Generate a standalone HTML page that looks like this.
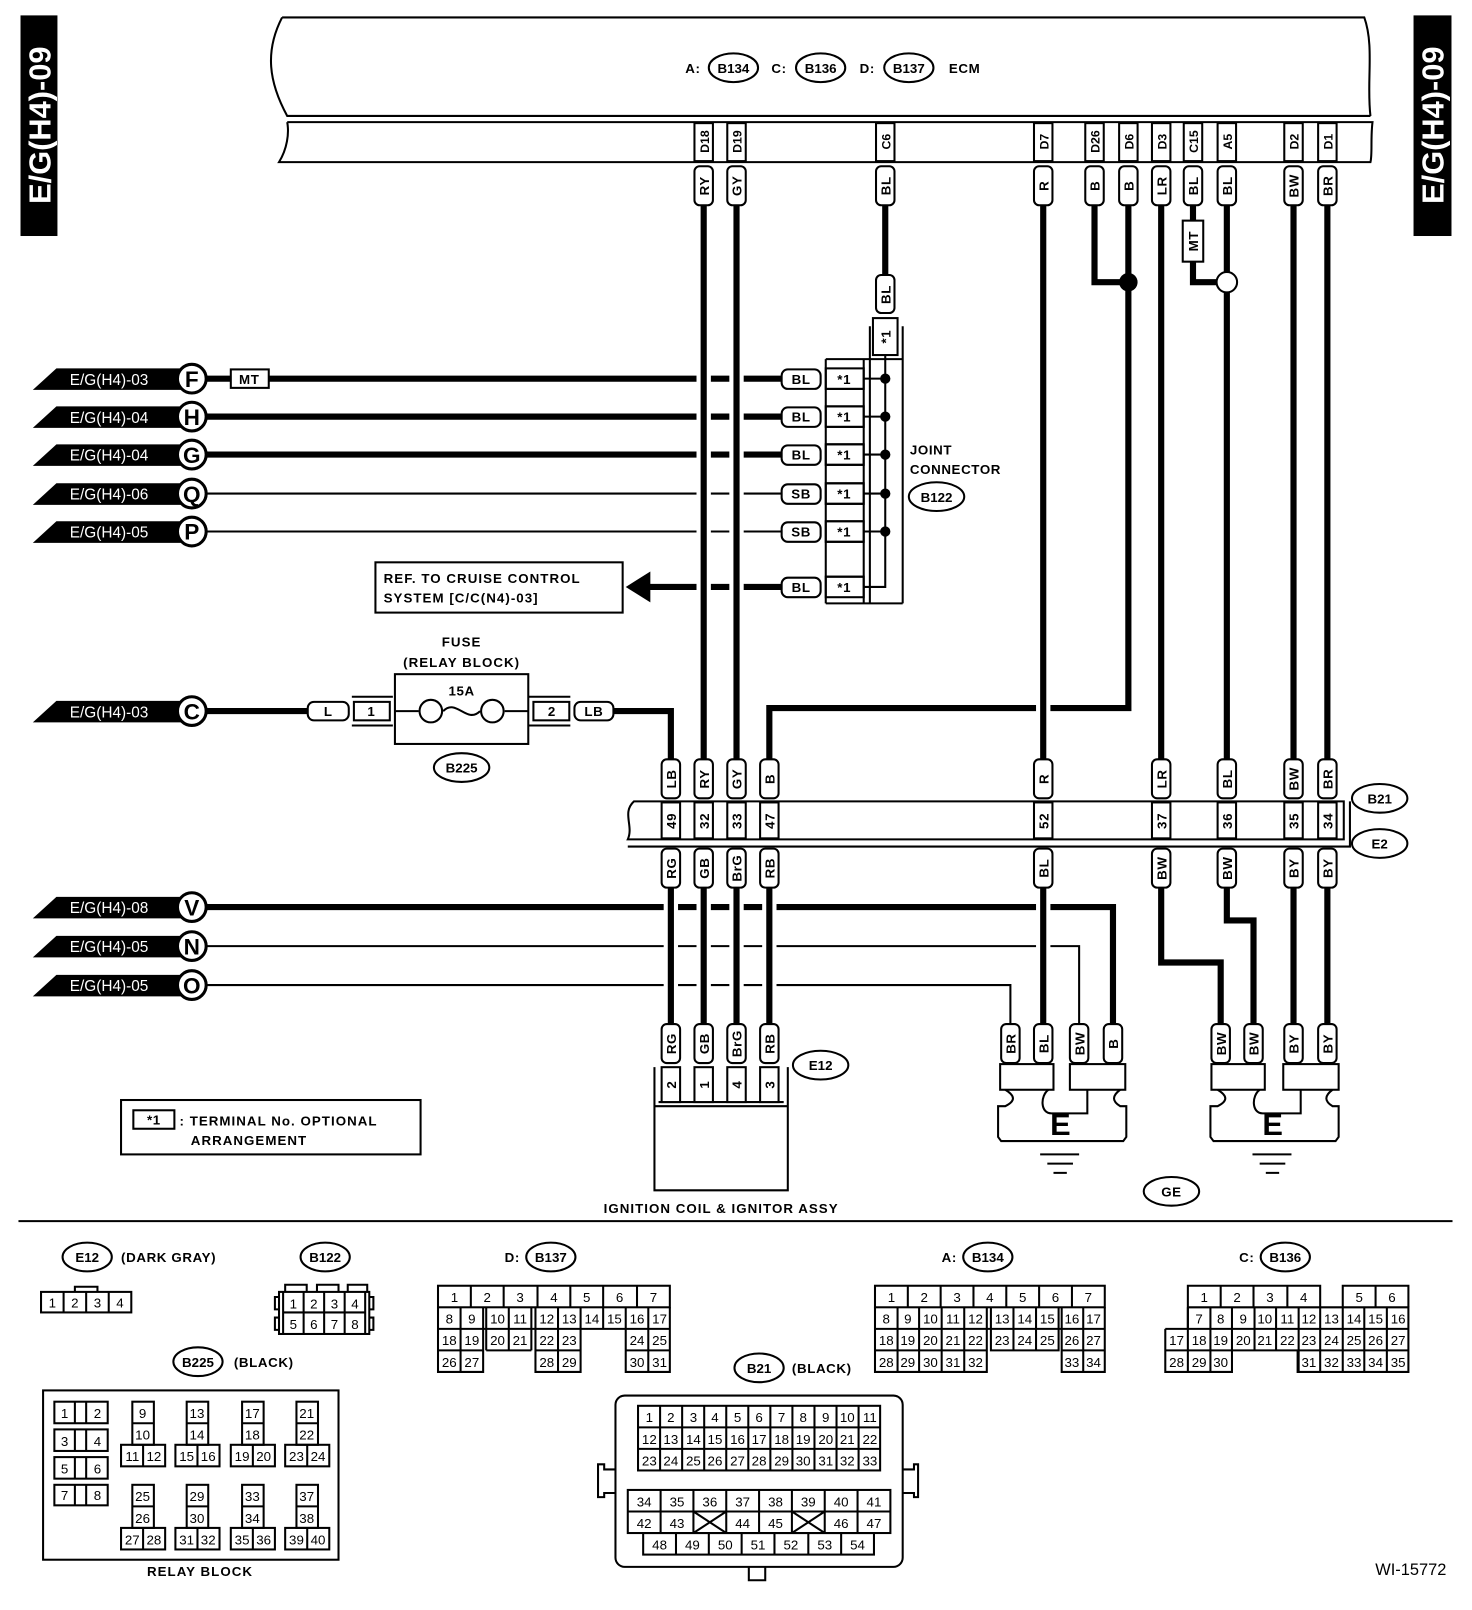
<!DOCTYPE html>
<html><head><meta charset="utf-8"><style>
html,body{margin:0;padding:0;background:#fff;}
svg{display:block}
text{font-family:"Liberation Sans",sans-serif;font-weight:bold;font-size:13px;fill:#000;letter-spacing:0.6px}
.s{font-size:13px;font-weight:normal;letter-spacing:0}
.p{font-size:12px;letter-spacing:0}
.o{fill:#fff;stroke:#000;stroke-width:2}
.n{fill:none;stroke:#000;stroke-width:2}
.th{stroke:#000;stroke-width:6;fill:none}
.tn{stroke:#000;stroke-width:2;fill:none}
.g{fill:#fff;stroke:none}
</style></head><body>
<svg width="1472" height="1610" viewBox="0 0 1435 1569" preserveAspectRatio="none" xmlns="http://www.w3.org/2000/svg">
<!-- tabs -->
<rect x="20" y="15" width="36" height="215" fill="#000"/>
<text transform="translate(49,122) rotate(-90)" text-anchor="middle" style="font-size:30px;fill:#fff;letter-spacing:0">E/G(H4)-09</text>
<rect x="1378" y="15" width="37" height="215" fill="#000"/>
<text transform="translate(1407,122) rotate(-90)" text-anchor="middle" style="font-size:30px;fill:#fff;letter-spacing:0">E/G(H4)-09</text>

<!-- ECM -->
<path class="n" d="M275,17 L1330,17 C1340,45 1332,80 1336,113 M275,17 C258,50 262,80 280,113 L1336,113"/>
<path class="n" d="M280,119 L1338,119 C1336,135 1338,150 1336,158 L272,158 C280,145 282,130 280,119"/>
<text x="668" y="71">A:</text>
<ellipse class="o" cx="715" cy="66" rx="24" ry="14"/><text x="715" y="71" text-anchor="middle" style="letter-spacing:0">B134</text>
<text x="752" y="71">C:</text>
<ellipse class="o" cx="800" cy="66" rx="24" ry="14"/><text x="800" y="71" text-anchor="middle" style="letter-spacing:0">B136</text>
<text x="838" y="71">D:</text>
<ellipse class="o" cx="886" cy="66" rx="24" ry="14"/><text x="886" y="71" text-anchor="middle" style="letter-spacing:0">B137</text>
<text x="925" y="71">ECM</text>

<!-- horizontal lines (upper) -->
<path class="th" d="M200,369 H762 M200,406 H762 M200,443 H762"/>
<path class="tn" d="M200,481 H762 M200,518 H762"/>
<path class="th" d="M632,572 H762"/>
<path class="th" d="M200,693 H300 M598,693 H654 V740"/>
<path class="th" d="M1100,200 V690 H750 V740"/>
<!-- lower horizontal -->
<path class="th" d="M200,884 H1085 V998"/>
<path class="tn" d="M200,922 H1052 V998 M200,960 H985 V998"/>
<!-- gaps -->
<g class="g">
<rect x="679" y="364" width="14" height="11"/><rect x="711" y="364" width="14" height="11"/>
<rect x="679" y="401" width="14" height="11"/><rect x="711" y="401" width="14" height="11"/>
<rect x="679" y="438" width="14" height="11"/><rect x="711" y="438" width="14" height="11"/>
<rect x="679" y="477" width="14" height="9"/><rect x="711" y="477" width="14" height="9"/>
<rect x="679" y="514" width="14" height="9"/><rect x="711" y="514" width="14" height="9"/>
<rect x="679" y="567" width="14" height="11"/><rect x="711" y="567" width="14" height="11"/>
<rect x="1010" y="685" width="14" height="11"/>
<rect x="647" y="879" width="14" height="11"/><rect x="679" y="879" width="14" height="11"/><rect x="711" y="879" width="14" height="11"/><rect x="743" y="879" width="14" height="11"/><rect x="1010" y="879" width="14" height="11"/>
<rect x="647" y="918" width="14" height="9"/><rect x="679" y="918" width="14" height="9"/><rect x="711" y="918" width="14" height="9"/><rect x="743" y="918" width="14" height="9"/><rect x="1010" y="918" width="14" height="9"/>
<rect x="647" y="956" width="14" height="9"/><rect x="679" y="956" width="14" height="9"/><rect x="711" y="956" width="14" height="9"/><rect x="743" y="956" width="14" height="9"/>
</g>

<!-- vertical wires -->
<path class="th" d="M686,200 V740 M718,200 V740 M863,200 V268 M1017,200 V740 M1067,200 V275 H1100 M1132,200 V740 M1163,200 V215 M1163,255 V275 H1186 M1196,200 V740 M1261,200 V740 M1294,200 V740"/>
<path class="th" d="M654,865 V998 M686,865 V998 M718,865 V998 M750,865 V998 M1017,865 V998 M1132,865 V938 H1190 V998 M1196,865 V897 H1222 V998 M1261,865 V998 M1294,865 V998"/>
<circle cx="1100" cy="275" r="9" fill="#000"/>
<circle cx="1196" cy="275" r="10" class="o"/>
<rect class="o" x="1153" y="215" width="20" height="40"/><text transform="translate(1168,235) rotate(-90)" text-anchor="middle">MT</text>

<!-- ECM pin cells -->
<g>
<rect class="o" x="677" y="120" width="18" height="37"/><text transform="translate(691,138) rotate(-90)" text-anchor="middle" class="p">D18</text>
<rect class="o" x="709" y="120" width="18" height="37"/><text transform="translate(723,138) rotate(-90)" text-anchor="middle" class="p">D19</text>
<rect class="o" x="854" y="120" width="18" height="37"/><text transform="translate(868,138) rotate(-90)" text-anchor="middle" class="p">C6</text>
<rect class="o" x="1008" y="120" width="18" height="37"/><text transform="translate(1022,138) rotate(-90)" text-anchor="middle" class="p">D7</text>
<rect class="o" x="1058" y="120" width="18" height="37"/><text transform="translate(1072,138) rotate(-90)" text-anchor="middle" class="p">D26</text>
<rect class="o" x="1091" y="120" width="18" height="37"/><text transform="translate(1105,138) rotate(-90)" text-anchor="middle" class="p">D6</text>
<rect class="o" x="1123" y="120" width="18" height="37"/><text transform="translate(1137,138) rotate(-90)" text-anchor="middle" class="p">D3</text>
<rect class="o" x="1154" y="120" width="18" height="37"/><text transform="translate(1168,138) rotate(-90)" text-anchor="middle" class="p">C15</text>
<rect class="o" x="1187" y="120" width="18" height="37"/><text transform="translate(1201,138) rotate(-90)" text-anchor="middle" class="p">A5</text>
<rect class="o" x="1252" y="120" width="18" height="37"/><text transform="translate(1266,138) rotate(-90)" text-anchor="middle" class="p">D2</text>
<rect class="o" x="1285" y="120" width="18" height="37"/><text transform="translate(1299,138) rotate(-90)" text-anchor="middle" class="p">D1</text>
</g>
<!-- top pills -->
<g>
<rect class="o" x="677" y="162" width="18" height="38" rx="5"/><text transform="translate(691,181) rotate(-90)" text-anchor="middle">RY</text>
<rect class="o" x="709" y="162" width="18" height="38" rx="5"/><text transform="translate(723,181) rotate(-90)" text-anchor="middle">GY</text>
<rect class="o" x="854" y="162" width="18" height="38" rx="5"/><text transform="translate(868,181) rotate(-90)" text-anchor="middle">BL</text>
<rect class="o" x="1008" y="162" width="18" height="38" rx="5"/><text transform="translate(1022,181) rotate(-90)" text-anchor="middle">R</text>
<rect class="o" x="1058" y="162" width="18" height="38" rx="5"/><text transform="translate(1072,181) rotate(-90)" text-anchor="middle">B</text>
<rect class="o" x="1091" y="162" width="18" height="38" rx="5"/><text transform="translate(1105,181) rotate(-90)" text-anchor="middle">B</text>
<rect class="o" x="1123" y="162" width="18" height="38" rx="5"/><text transform="translate(1137,181) rotate(-90)" text-anchor="middle">LR</text>
<rect class="o" x="1154" y="162" width="18" height="38" rx="5"/><text transform="translate(1168,181) rotate(-90)" text-anchor="middle">BL</text>
<rect class="o" x="1187" y="162" width="18" height="38" rx="5"/><text transform="translate(1201,181) rotate(-90)" text-anchor="middle">BL</text>
<rect class="o" x="1252" y="162" width="18" height="38" rx="5"/><text transform="translate(1266,181) rotate(-90)" text-anchor="middle">BW</text>
<rect class="o" x="1285" y="162" width="18" height="38" rx="5"/><text transform="translate(1299,181) rotate(-90)" text-anchor="middle">BR</text>
<rect class="o" x="854" y="268" width="18" height="37" rx="5"/><text transform="translate(868,287) rotate(-90)" text-anchor="middle">BL</text>
</g>

<!-- joint connector -->
<path class="n" d="M848,318 V588 M880,318 V588 M805,350 H880 M805,588 H880"/>
<rect class="o" x="851" y="310" width="24" height="36"/><text transform="translate(868,328) rotate(-90)" text-anchor="middle">*1</text>
<path class="n" d="M863,346 V572 H842"/>
<g>
<rect class="o" x="805" y="359" width="37" height="20"/><text x="823" y="374" text-anchor="middle">*1</text>
<rect class="o" x="805" y="396" width="37" height="20"/><text x="823" y="411" text-anchor="middle">*1</text>
<rect class="o" x="805" y="433" width="37" height="20"/><text x="823" y="448" text-anchor="middle">*1</text>
<rect class="o" x="805" y="471" width="37" height="20"/><text x="823" y="486" text-anchor="middle">*1</text>
<rect class="o" x="805" y="508" width="37" height="20"/><text x="823" y="523" text-anchor="middle">*1</text>
<rect class="o" x="805" y="562" width="37" height="20"/><text x="823" y="577" text-anchor="middle">*1</text>
<path class="n" d="M805,350 V588 M842,350 V588 M805,379 H842 M805,396 H842 M805,416 H842 M805,433 H842 M805,453 H842 M805,471 H842 M805,491 H842 M805,508 H842 M805,528 H842 M805,562 H842"/>
<path class="n" d="M842,369 H863 M842,406 H863 M842,443 H863 M842,481 H863 M842,518 H863"/>
<circle cx="863" cy="369" r="5"/><circle cx="863" cy="406" r="5"/><circle cx="863" cy="443" r="5"/><circle cx="863" cy="481" r="5"/><circle cx="863" cy="518" r="5"/>
<rect class="o" x="762" y="360" width="38" height="19" rx="6"/><text x="781" y="374" text-anchor="middle">BL</text>
<rect class="o" x="762" y="397" width="38" height="19" rx="6"/><text x="781" y="411" text-anchor="middle">BL</text>
<rect class="o" x="762" y="434" width="38" height="19" rx="6"/><text x="781" y="448" text-anchor="middle">BL</text>
<rect class="o" x="762" y="472" width="38" height="19" rx="6"/><text x="781" y="486" text-anchor="middle">SB</text>
<rect class="o" x="762" y="509" width="38" height="19" rx="6"/><text x="781" y="523" text-anchor="middle">SB</text>
<rect class="o" x="762" y="563" width="38" height="19" rx="6"/><text x="781" y="577" text-anchor="middle">BL</text>
</g>
<text x="887" y="443">JOINT</text><text x="887" y="462">CONNECTOR</text>
<ellipse class="o" cx="913" cy="484" rx="27" ry="14"/><text x="913" y="489" text-anchor="middle" style="letter-spacing:0">B122</text>

<!-- left labels -->
<g>
<polygon points="32,380 55,359 176,359 176,380" fill="#000"/><text x="68" y="375" class="s" style="fill:#fff;font-size:15px">E/G(H4)-03</text><circle class="o" cx="187" cy="369" r="14" style="stroke-width:3"/><text x="187" y="377" text-anchor="middle" style="font-size:22px;letter-spacing:0">F</text>
<polygon points="32,417 55,396 176,396 176,417" fill="#000"/><text x="68" y="412" class="s" style="fill:#fff;font-size:15px">E/G(H4)-04</text><circle class="o" cx="187" cy="406" r="14" style="stroke-width:3"/><text x="187" y="414" text-anchor="middle" style="font-size:22px;letter-spacing:0">H</text>
<polygon points="32,454 55,433 176,433 176,454" fill="#000"/><text x="68" y="449" class="s" style="fill:#fff;font-size:15px">E/G(H4)-04</text><circle class="o" cx="187" cy="443" r="14" style="stroke-width:3"/><text x="187" y="451" text-anchor="middle" style="font-size:22px;letter-spacing:0">G</text>
<polygon points="32,492 55,471 176,471 176,492" fill="#000"/><text x="68" y="487" class="s" style="fill:#fff;font-size:15px">E/G(H4)-06</text><circle class="o" cx="187" cy="481" r="14" style="stroke-width:3"/><text x="187" y="489" text-anchor="middle" style="font-size:22px;letter-spacing:0">Q</text>
<polygon points="32,529 55,508 176,508 176,529" fill="#000"/><text x="68" y="524" class="s" style="fill:#fff;font-size:15px">E/G(H4)-05</text><circle class="o" cx="187" cy="518" r="14" style="stroke-width:3"/><text x="187" y="526" text-anchor="middle" style="font-size:22px;letter-spacing:0">P</text>
<polygon points="32,704 55,683 176,683 176,704" fill="#000"/><text x="68" y="699" class="s" style="fill:#fff;font-size:15px">E/G(H4)-03</text><circle class="o" cx="187" cy="693" r="14" style="stroke-width:3"/><text x="187" y="701" text-anchor="middle" style="font-size:22px;letter-spacing:0">C</text>
<polygon points="32,895 55,874 176,874 176,895" fill="#000"/><text x="68" y="890" class="s" style="fill:#fff;font-size:15px">E/G(H4)-08</text><circle class="o" cx="187" cy="884" r="14" style="stroke-width:3"/><text x="187" y="892" text-anchor="middle" style="font-size:22px;letter-spacing:0">V</text>
<polygon points="32,933 55,912 176,912 176,933" fill="#000"/><text x="68" y="928" class="s" style="fill:#fff;font-size:15px">E/G(H4)-05</text><circle class="o" cx="187" cy="922" r="14" style="stroke-width:3"/><text x="187" y="930" text-anchor="middle" style="font-size:22px;letter-spacing:0">N</text>
<polygon points="32,971 55,950 176,950 176,971" fill="#000"/><text x="68" y="966" class="s" style="fill:#fff;font-size:15px">E/G(H4)-05</text><circle class="o" cx="187" cy="960" r="14" style="stroke-width:3"/><text x="187" y="968" text-anchor="middle" style="font-size:22px;letter-spacing:0">O</text>
</g>
<rect class="o" x="225" y="360" width="37" height="18"/><text x="243" y="374" text-anchor="middle">MT</text>

<!-- REF box -->
<rect class="o" x="366" y="548" width="241" height="49"/>
<text x="374" y="568" style="font-size:13px;letter-spacing:1px">REF. TO CRUISE CONTROL</text>
<text x="374" y="587" style="font-size:13px;letter-spacing:1px">SYSTEM [C/C(N4)-03]</text>
<polygon points="610,572 634,557 634,587" fill="#000"/>

<!-- fuse -->
<text x="450" y="630" text-anchor="middle" style="letter-spacing:1px">FUSE</text>
<text x="450" y="650" text-anchor="middle" style="letter-spacing:1px">(RELAY BLOCK)</text>
<rect class="o" x="300" y="684" width="40" height="18" rx="6"/><text x="320" y="698" text-anchor="middle">L</text>
<rect class="o" x="345" y="684" width="35" height="18"/><text x="362" y="698" text-anchor="middle">1</text>
<path class="n" d="M343,679 H383 M343,707 H383 M515,679 H556 M515,707 H556"/>
<rect class="o" x="385" y="657" width="130" height="68"/>
<text x="450" y="678" text-anchor="middle">15A</text>
<path class="n" d="M385,693 H408 M432,693 C445,680 455,706 468,693 M492,693 H515"/>
<circle class="o" cx="420" cy="693" r="11"/><circle class="o" cx="480" cy="693" r="11"/>
<rect class="o" x="520" y="684" width="35" height="18"/><text x="538" y="698" text-anchor="middle">2</text>
<rect class="o" x="560" y="684" width="38" height="18" rx="6"/><text x="579" y="698" text-anchor="middle">LB</text>
<ellipse class="o" cx="450" cy="748" rx="27" ry="14"/><text x="450" y="753" text-anchor="middle" style="letter-spacing:0">B225</text>

<!-- B21 strip -->
<path class="n" d="M618,781 H1310 V818 H612 C618,805 606,792 618,781 Z M612,825 H1316 V781"/>
<g>
<rect class="o" x="645" y="782" width="18" height="35"/><text transform="translate(659,800) rotate(-90)" text-anchor="middle">49</text>
<rect class="o" x="677" y="782" width="18" height="35"/><text transform="translate(691,800) rotate(-90)" text-anchor="middle">32</text>
<rect class="o" x="709" y="782" width="18" height="35"/><text transform="translate(723,800) rotate(-90)" text-anchor="middle">33</text>
<rect class="o" x="741" y="782" width="18" height="35"/><text transform="translate(755,800) rotate(-90)" text-anchor="middle">47</text>
<rect class="o" x="1008" y="782" width="18" height="35"/><text transform="translate(1022,800) rotate(-90)" text-anchor="middle">52</text>
<rect class="o" x="1123" y="782" width="18" height="35"/><text transform="translate(1137,800) rotate(-90)" text-anchor="middle">37</text>
<rect class="o" x="1187" y="782" width="18" height="35"/><text transform="translate(1201,800) rotate(-90)" text-anchor="middle">36</text>
<rect class="o" x="1252" y="782" width="18" height="35"/><text transform="translate(1266,800) rotate(-90)" text-anchor="middle">35</text>
<rect class="o" x="1285" y="782" width="18" height="35"/><text transform="translate(1299,800) rotate(-90)" text-anchor="middle">34</text>
</g>
<g>
<rect class="o" x="645" y="740" width="18" height="38" rx="5"/><text transform="translate(659,759) rotate(-90)" text-anchor="middle">LB</text>
<rect class="o" x="677" y="740" width="18" height="38" rx="5"/><text transform="translate(691,759) rotate(-90)" text-anchor="middle">RY</text>
<rect class="o" x="709" y="740" width="18" height="38" rx="5"/><text transform="translate(723,759) rotate(-90)" text-anchor="middle">GY</text>
<rect class="o" x="741" y="740" width="18" height="38" rx="5"/><text transform="translate(755,759) rotate(-90)" text-anchor="middle">B</text>
<rect class="o" x="1008" y="740" width="18" height="38" rx="5"/><text transform="translate(1022,759) rotate(-90)" text-anchor="middle">R</text>
<rect class="o" x="1123" y="740" width="18" height="38" rx="5"/><text transform="translate(1137,759) rotate(-90)" text-anchor="middle">LR</text>
<rect class="o" x="1187" y="740" width="18" height="38" rx="5"/><text transform="translate(1201,759) rotate(-90)" text-anchor="middle">BL</text>
<rect class="o" x="1252" y="740" width="18" height="38" rx="5"/><text transform="translate(1266,759) rotate(-90)" text-anchor="middle">BW</text>
<rect class="o" x="1285" y="740" width="18" height="38" rx="5"/><text transform="translate(1299,759) rotate(-90)" text-anchor="middle">BR</text>
</g>
<g>
<rect class="o" x="645" y="827" width="18" height="38" rx="5"/><text transform="translate(659,846) rotate(-90)" text-anchor="middle">RG</text>
<rect class="o" x="677" y="827" width="18" height="38" rx="5"/><text transform="translate(691,846) rotate(-90)" text-anchor="middle">GB</text>
<rect class="o" x="709" y="827" width="18" height="38" rx="5"/><text transform="translate(723,846) rotate(-90)" text-anchor="middle">BrG</text>
<rect class="o" x="741" y="827" width="18" height="38" rx="5"/><text transform="translate(755,846) rotate(-90)" text-anchor="middle">RB</text>
<rect class="o" x="1008" y="827" width="18" height="38" rx="5"/><text transform="translate(1022,846) rotate(-90)" text-anchor="middle">BL</text>
<rect class="o" x="1123" y="827" width="18" height="38" rx="5"/><text transform="translate(1137,846) rotate(-90)" text-anchor="middle">BW</text>
<rect class="o" x="1187" y="827" width="18" height="38" rx="5"/><text transform="translate(1201,846) rotate(-90)" text-anchor="middle">BW</text>
<rect class="o" x="1252" y="827" width="18" height="38" rx="5"/><text transform="translate(1266,846) rotate(-90)" text-anchor="middle">BY</text>
<rect class="o" x="1285" y="827" width="18" height="38" rx="5"/><text transform="translate(1299,846) rotate(-90)" text-anchor="middle">BY</text>
</g>
<ellipse class="o" cx="1345" cy="778" rx="27" ry="14"/><text x="1345" y="783" text-anchor="middle" style="letter-spacing:0">B21</text>
<ellipse class="o" cx="1345" cy="822" rx="27" ry="14"/><text x="1345" y="827" text-anchor="middle" style="letter-spacing:0">E2</text>

<!-- bottom pills -->
<g>
<rect class="o" x="645" y="998" width="18" height="38" rx="5"/><text transform="translate(659,1017) rotate(-90)" text-anchor="middle">RG</text>
<rect class="o" x="677" y="998" width="18" height="38" rx="5"/><text transform="translate(691,1017) rotate(-90)" text-anchor="middle">GB</text>
<rect class="o" x="709" y="998" width="18" height="38" rx="5"/><text transform="translate(723,1017) rotate(-90)" text-anchor="middle">BrG</text>
<rect class="o" x="741" y="998" width="18" height="38" rx="5"/><text transform="translate(755,1017) rotate(-90)" text-anchor="middle">RB</text>
<rect class="o" x="976" y="998" width="18" height="38" rx="5"/><text transform="translate(990,1017) rotate(-90)" text-anchor="middle">BR</text>
<rect class="o" x="1008" y="998" width="18" height="38" rx="5"/><text transform="translate(1022,1017) rotate(-90)" text-anchor="middle">BL</text>
<rect class="o" x="1043" y="998" width="18" height="38" rx="5"/><text transform="translate(1057,1017) rotate(-90)" text-anchor="middle">BW</text>
<rect class="o" x="1076" y="998" width="18" height="38" rx="5"/><text transform="translate(1090,1017) rotate(-90)" text-anchor="middle">B</text>
<rect class="o" x="1181" y="998" width="18" height="38" rx="5"/><text transform="translate(1195,1017) rotate(-90)" text-anchor="middle">BW</text>
<rect class="o" x="1213" y="998" width="18" height="38" rx="5"/><text transform="translate(1227,1017) rotate(-90)" text-anchor="middle">BW</text>
<rect class="o" x="1252" y="998" width="18" height="38" rx="5"/><text transform="translate(1266,1017) rotate(-90)" text-anchor="middle">BY</text>
<rect class="o" x="1285" y="998" width="18" height="38" rx="5"/><text transform="translate(1299,1017) rotate(-90)" text-anchor="middle">BY</text>
</g>

<!-- E12 -->
<path class="n" d="M638,1040 V1160 H768 V1040 M638,1078 H768 M642,1074 H764"/>
<rect class="o" x="645" y="1040" width="18" height="34"/><text transform="translate(659,1057) rotate(-90)" text-anchor="middle">2</text>
<rect class="o" x="677" y="1040" width="18" height="34"/><text transform="translate(691,1057) rotate(-90)" text-anchor="middle">1</text>
<rect class="o" x="709" y="1040" width="18" height="34"/><text transform="translate(723,1057) rotate(-90)" text-anchor="middle">4</text>
<rect class="o" x="741" y="1040" width="18" height="34"/><text transform="translate(755,1057) rotate(-90)" text-anchor="middle">3</text>
<ellipse class="o" cx="800" cy="1038" rx="27" ry="14"/><text x="800" y="1043" text-anchor="middle" style="letter-spacing:0">E12</text>
<text x="703" y="1182" text-anchor="middle" style="letter-spacing:1px">IGNITION COIL &amp; IGNITOR ASSY</text>

<!-- legend -->
<rect class="o" x="118" y="1072" width="292" height="53"/>
<rect class="o" x="130" y="1082" width="40" height="18"/><text x="150" y="1096" text-anchor="middle">*1</text>
<text x="175" y="1097" style="letter-spacing:1px">: TERMINAL No. OPTIONAL</text>
<text x="186" y="1116" style="letter-spacing:1px">ARRANGEMENT</text>

<!-- ground E -->
<g>
<rect class="o" x="975" y="1037" width="52" height="25"/><rect class="o" x="1043" y="1037" width="54" height="25"/>
<path class="n" d="M980,1062 C990,1068 990,1073 980,1078 L973,1078 V1108 L976,1112 H1095 L1098,1108 V1078 H1092 C1084,1073 1084,1068 1092,1062 M1022,1062 C1014,1068 1014,1085 1025,1085 H1060 V1062"/>
<text x="1034" y="1106" text-anchor="middle" style="font-size:30px">E</text>
<path class="n" d="M1014,1125 H1052 M1021,1134 H1046 M1027,1143 H1040"/>
<rect class="o" x="1181" y="1037" width="52" height="25"/><rect class="o" x="1251" y="1037" width="54" height="25"/>
<path class="n" d="M1187,1062 C1197,1068 1197,1073 1187,1078 L1180,1078 V1108 L1183,1112 H1302 L1305,1108 V1078 H1299 C1291,1073 1291,1068 1299,1062 M1228,1062 C1220,1068 1220,1085 1231,1085 H1268 V1062"/>
<text x="1241" y="1106" text-anchor="middle" style="font-size:30px">E</text>
<path class="n" d="M1221,1125 H1259 M1228,1134 H1253 M1234,1143 H1247"/>
</g>
<ellipse class="o" cx="1142" cy="1161" rx="27" ry="14"/><text x="1142" y="1166" text-anchor="middle">GE</text>

<line x1="18" y1="1190" x2="1416" y2="1190" stroke="#000" stroke-width="2"/>

<!-- bottom: E12 -->
<ellipse class="o" cx="85" cy="1225" rx="24" ry="14"/><text x="85" y="1230" text-anchor="middle" style="letter-spacing:0">E12</text>
<text x="118" y="1230">(DARK GRAY)</text>
<path class="n" d="M73,1259 V1254 H95 V1259"/>
<rect class="o" x="40" y="1259" width="88" height="20"/>
<path class="n" d="M62,1259 V1279 M84,1259 V1279 M106,1259 V1279"/>
<text x="51" y="1274" text-anchor="middle" class="s">1</text><text x="73" y="1274" text-anchor="middle" class="s">2</text><text x="95" y="1274" text-anchor="middle" class="s">3</text><text x="117" y="1274" text-anchor="middle" class="s">4</text>
<!-- B122 -->
<ellipse class="o" cx="317" cy="1225" rx="24" ry="14"/><text x="317" y="1230" text-anchor="middle" style="letter-spacing:0">B122</text>
<rect class="o" x="272" y="1259" width="88" height="41"/>
<path class="n" d="M278,1259 V1252 H299 V1259 M309,1259 V1252 H330 V1259 M339,1259 V1252 H358 V1259 M272,1264 H268 V1276 H272 M360,1264 H364 V1276 H360 M272,1284 H268 V1296 H272 M360,1284 H364 V1296 H360 M276,1259 V1300 M356,1259 V1300 M276,1279 H356 M296,1259 V1300 M316,1259 V1300 M336,1259 V1300"/>
<text x="286" y="1275" text-anchor="middle" class="s">1</text><text x="306" y="1275" text-anchor="middle" class="s">2</text><text x="326" y="1275" text-anchor="middle" class="s">3</text><text x="346" y="1275" text-anchor="middle" class="s">4</text>
<text x="286" y="1295" text-anchor="middle" class="s">5</text><text x="306" y="1295" text-anchor="middle" class="s">6</text><text x="326" y="1295" text-anchor="middle" class="s">7</text><text x="346" y="1295" text-anchor="middle" class="s">8</text>

<!-- B225 relay block -->
<ellipse class="o" cx="193" cy="1327" rx="24" ry="14"/><text x="193" y="1332" text-anchor="middle" style="letter-spacing:0">B225</text>
<text x="228" y="1332">(BLACK)</text>
<rect class="o" x="42" y="1355" width="288" height="165"/>
<text x="195" y="1536" text-anchor="middle" style="letter-spacing:1px">RELAY BLOCK</text>
<g class="n">
<rect x="53" y="1366" width="52" height="21"/><rect x="53" y="1393" width="52" height="21"/><rect x="53" y="1420" width="52" height="21"/><rect x="53" y="1447" width="52" height="20"/>
<path d="M73,1366 V1387 M84,1366 V1387 M73,1393 V1414 M84,1393 V1414 M73,1420 V1441 M84,1420 V1441 M73,1447 V1467 M84,1447 V1467"/>
</g>
<text x="63" y="1382" text-anchor="middle" class="s">1</text><text x="95" y="1382" text-anchor="middle" class="s">2</text>
<text x="63" y="1409" text-anchor="middle" class="s">3</text><text x="95" y="1409" text-anchor="middle" class="s">4</text>
<text x="63" y="1436" text-anchor="middle" class="s">5</text><text x="95" y="1436" text-anchor="middle" class="s">6</text>
<text x="63" y="1462" text-anchor="middle" class="s">7</text><text x="95" y="1462" text-anchor="middle" class="s">8</text>
<g class="n">
<rect x="129" y="1366" width="21" height="42"/><path d="M129,1387 H150"/><rect x="118" y="1408" width="43" height="21"/><path d="M139.5,1408 V1429"/>
<rect x="182" y="1366" width="21" height="42"/><path d="M182,1387 H203"/><rect x="171" y="1408" width="43" height="21"/><path d="M192.5,1408 V1429"/>
<rect x="236" y="1366" width="21" height="42"/><path d="M236,1387 H257"/><rect x="225" y="1408" width="43" height="21"/><path d="M246.5,1408 V1429"/>
<rect x="289" y="1366" width="21" height="42"/><path d="M289,1387 H310"/><rect x="278" y="1408" width="43" height="21"/><path d="M299.5,1408 V1429"/>
<rect x="129" y="1447" width="21" height="42"/><path d="M129,1468 H150"/><rect x="118" y="1489" width="43" height="21"/><path d="M139.5,1489 V1510"/>
<rect x="182" y="1447" width="21" height="42"/><path d="M182,1468 H203"/><rect x="171" y="1489" width="43" height="21"/><path d="M192.5,1489 V1510"/>
<rect x="236" y="1447" width="21" height="42"/><path d="M236,1468 H257"/><rect x="225" y="1489" width="43" height="21"/><path d="M246.5,1489 V1510"/>
<rect x="289" y="1447" width="21" height="42"/><path d="M289,1468 H310"/><rect x="278" y="1489" width="43" height="21"/><path d="M299.5,1489 V1510"/>
</g>
<g>
<text x="139" y="1382" text-anchor="middle" class="s">9</text><text x="139" y="1403" text-anchor="middle" class="s">10</text><text x="129" y="1424" text-anchor="middle" class="s">11</text><text x="150" y="1424" text-anchor="middle" class="s">12</text>
<text x="192" y="1382" text-anchor="middle" class="s">13</text><text x="192" y="1403" text-anchor="middle" class="s">14</text><text x="182" y="1424" text-anchor="middle" class="s">15</text><text x="203" y="1424" text-anchor="middle" class="s">16</text>
<text x="246" y="1382" text-anchor="middle" class="s">17</text><text x="246" y="1403" text-anchor="middle" class="s">18</text><text x="236" y="1424" text-anchor="middle" class="s">19</text><text x="257" y="1424" text-anchor="middle" class="s">20</text>
<text x="299" y="1382" text-anchor="middle" class="s">21</text><text x="299" y="1403" text-anchor="middle" class="s">22</text><text x="289" y="1424" text-anchor="middle" class="s">23</text><text x="310" y="1424" text-anchor="middle" class="s">24</text>
<text x="139" y="1463" text-anchor="middle" class="s">25</text><text x="139" y="1484" text-anchor="middle" class="s">26</text><text x="129" y="1505" text-anchor="middle" class="s">27</text><text x="150" y="1505" text-anchor="middle" class="s">28</text>
<text x="192" y="1463" text-anchor="middle" class="s">29</text><text x="192" y="1484" text-anchor="middle" class="s">30</text><text x="182" y="1505" text-anchor="middle" class="s">31</text><text x="203" y="1505" text-anchor="middle" class="s">32</text>
<text x="246" y="1463" text-anchor="middle" class="s">33</text><text x="246" y="1484" text-anchor="middle" class="s">34</text><text x="236" y="1505" text-anchor="middle" class="s">35</text><text x="257" y="1505" text-anchor="middle" class="s">36</text>
<text x="299" y="1463" text-anchor="middle" class="s">37</text><text x="299" y="1484" text-anchor="middle" class="s">38</text><text x="289" y="1505" text-anchor="middle" class="s">39</text><text x="310" y="1505" text-anchor="middle" class="s">40</text>
</g>

<!-- D:B137 -->
<text x="492" y="1230">D:</text>
<ellipse class="o" cx="537" cy="1225" rx="24" ry="14"/><text x="537" y="1230" text-anchor="middle" style="letter-spacing:0">B137</text>
<g class="n">
<rect x="427" y="1253" width="226" height="21"/>
<path d="M459,1253 V1274 M491,1253 V1274 M524,1253 V1274 M556,1253 V1274 M588,1253 V1274 M621,1253 V1274"/>
<path d="M427,1274 V1337 H471 V1316 M427,1295 H653 M427,1316 H471 M449,1274 V1337 M471,1274 V1316 M474,1274 V1316 M496,1274 V1316 M518,1274 V1316 M474,1316 H518 M522,1274 V1337 H566 V1274 M544,1274 V1337 M566,1274 V1295 M588,1274 V1295 M610,1274 V1337 H653 V1274 M632,1274 V1337 M610,1316 H653 M522,1316 H566 M566,1295 V1316"/>
</g>
<g>
<text x="443" y="1269" text-anchor="middle" class="s">1</text><text x="475" y="1269" text-anchor="middle" class="s">2</text><text x="507" y="1269" text-anchor="middle" class="s">3</text><text x="540" y="1269" text-anchor="middle" class="s">4</text><text x="572" y="1269" text-anchor="middle" class="s">5</text><text x="604" y="1269" text-anchor="middle" class="s">6</text><text x="637" y="1269" text-anchor="middle" class="s">7</text>
<text x="438" y="1290" text-anchor="middle" class="s">8</text><text x="460" y="1290" text-anchor="middle" class="s">9</text><text x="485" y="1290" text-anchor="middle" class="s">10</text><text x="507" y="1290" text-anchor="middle" class="s">11</text><text x="533" y="1290" text-anchor="middle" class="s">12</text><text x="555" y="1290" text-anchor="middle" class="s">13</text><text x="577" y="1290" text-anchor="middle" class="s">14</text><text x="599" y="1290" text-anchor="middle" class="s">15</text><text x="621" y="1290" text-anchor="middle" class="s">16</text><text x="643" y="1290" text-anchor="middle" class="s">17</text>
<text x="438" y="1311" text-anchor="middle" class="s">18</text><text x="460" y="1311" text-anchor="middle" class="s">19</text><text x="485" y="1311" text-anchor="middle" class="s">20</text><text x="507" y="1311" text-anchor="middle" class="s">21</text><text x="533" y="1311" text-anchor="middle" class="s">22</text><text x="555" y="1311" text-anchor="middle" class="s">23</text><text x="621" y="1311" text-anchor="middle" class="s">24</text><text x="643" y="1311" text-anchor="middle" class="s">25</text>
<text x="438" y="1332" text-anchor="middle" class="s">26</text><text x="460" y="1332" text-anchor="middle" class="s">27</text><text x="533" y="1332" text-anchor="middle" class="s">28</text><text x="555" y="1332" text-anchor="middle" class="s">29</text><text x="621" y="1332" text-anchor="middle" class="s">30</text><text x="643" y="1332" text-anchor="middle" class="s">31</text>
</g>

<!-- A:B134 -->
<text x="918" y="1230">A:</text>
<ellipse class="o" cx="963" cy="1225" rx="24" ry="14"/><text x="963" y="1230" text-anchor="middle" style="letter-spacing:0">B134</text>
<g class="n">
<rect x="853" y="1253" width="224" height="21"/>
<path d="M885,1253 V1274 M917,1253 V1274 M949,1253 V1274 M981,1253 V1274 M1013,1253 V1274 M1045,1253 V1274"/>
<path d="M853,1274 V1337 H962 V1274 M853,1295 H1077 M853,1316 H962 M875,1274 V1337 M896,1274 V1337 M918,1274 V1337 M940,1274 V1337 M966,1274 V1316 H1032 V1274 M988,1274 V1316 M1010,1274 V1316 M1035,1274 V1337 H1077 V1274 M1056,1274 V1337 M1035,1316 H1077"/>
</g>
<g>
<text x="869" y="1269" text-anchor="middle" class="s">1</text><text x="901" y="1269" text-anchor="middle" class="s">2</text><text x="933" y="1269" text-anchor="middle" class="s">3</text><text x="965" y="1269" text-anchor="middle" class="s">4</text><text x="997" y="1269" text-anchor="middle" class="s">5</text><text x="1029" y="1269" text-anchor="middle" class="s">6</text><text x="1061" y="1269" text-anchor="middle" class="s">7</text>
<text x="864" y="1290" text-anchor="middle" class="s">8</text><text x="885" y="1290" text-anchor="middle" class="s">9</text><text x="907" y="1290" text-anchor="middle" class="s">10</text><text x="929" y="1290" text-anchor="middle" class="s">11</text><text x="951" y="1290" text-anchor="middle" class="s">12</text><text x="977" y="1290" text-anchor="middle" class="s">13</text><text x="999" y="1290" text-anchor="middle" class="s">14</text><text x="1021" y="1290" text-anchor="middle" class="s">15</text><text x="1045" y="1290" text-anchor="middle" class="s">16</text><text x="1066" y="1290" text-anchor="middle" class="s">17</text>
<text x="864" y="1311" text-anchor="middle" class="s">18</text><text x="885" y="1311" text-anchor="middle" class="s">19</text><text x="907" y="1311" text-anchor="middle" class="s">20</text><text x="929" y="1311" text-anchor="middle" class="s">21</text><text x="951" y="1311" text-anchor="middle" class="s">22</text><text x="977" y="1311" text-anchor="middle" class="s">23</text><text x="999" y="1311" text-anchor="middle" class="s">24</text><text x="1021" y="1311" text-anchor="middle" class="s">25</text><text x="1045" y="1311" text-anchor="middle" class="s">26</text><text x="1066" y="1311" text-anchor="middle" class="s">27</text>
<text x="864" y="1332" text-anchor="middle" class="s">28</text><text x="885" y="1332" text-anchor="middle" class="s">29</text><text x="907" y="1332" text-anchor="middle" class="s">30</text><text x="929" y="1332" text-anchor="middle" class="s">31</text><text x="951" y="1332" text-anchor="middle" class="s">32</text><text x="1045" y="1332" text-anchor="middle" class="s">33</text><text x="1066" y="1332" text-anchor="middle" class="s">34</text>
</g>

<!-- C:B136 -->
<text x="1208" y="1230">C:</text>
<ellipse class="o" cx="1253" cy="1225" rx="24" ry="14"/><text x="1253" y="1230" text-anchor="middle" style="letter-spacing:0">B136</text>
<g class="n">
<path d="M1158,1295 V1253 H1287 V1274 M1190,1253 V1274 M1222,1253 V1274 M1255,1253 V1274 M1309,1274 V1253 H1373 V1274 M1341,1253 V1274"/>
<path d="M1158,1274 H1373 V1337 H1265 V1316 M1136,1295 H1373 M1136,1295 V1337 H1201 V1316 M1136,1316 H1373"/>
<path d="M1180,1274 V1337 M1201,1274 V1316 M1223,1274 V1316 M1244,1274 V1316 M1266,1274 V1337 M1287,1274 V1337 M1309,1274 V1337 M1330,1274 V1337 M1352,1274 V1337 M1158,1274 V1337"/>
</g>
<g>
<text x="1174" y="1269" text-anchor="middle" class="s">1</text><text x="1206" y="1269" text-anchor="middle" class="s">2</text><text x="1238" y="1269" text-anchor="middle" class="s">3</text><text x="1271" y="1269" text-anchor="middle" class="s">4</text><text x="1325" y="1269" text-anchor="middle" class="s">5</text><text x="1357" y="1269" text-anchor="middle" class="s">6</text>
<text x="1169" y="1290" text-anchor="middle" class="s">7</text><text x="1190" y="1290" text-anchor="middle" class="s">8</text><text x="1212" y="1290" text-anchor="middle" class="s">9</text><text x="1233" y="1290" text-anchor="middle" class="s">10</text><text x="1255" y="1290" text-anchor="middle" class="s">11</text><text x="1276" y="1290" text-anchor="middle" class="s">12</text><text x="1298" y="1290" text-anchor="middle" class="s">13</text><text x="1320" y="1290" text-anchor="middle" class="s">14</text><text x="1341" y="1290" text-anchor="middle" class="s">15</text><text x="1363" y="1290" text-anchor="middle" class="s">16</text>
<text x="1147" y="1311" text-anchor="middle" class="s">17</text><text x="1169" y="1311" text-anchor="middle" class="s">18</text><text x="1190" y="1311" text-anchor="middle" class="s">19</text><text x="1212" y="1311" text-anchor="middle" class="s">20</text><text x="1233" y="1311" text-anchor="middle" class="s">21</text><text x="1255" y="1311" text-anchor="middle" class="s">22</text><text x="1276" y="1311" text-anchor="middle" class="s">23</text><text x="1298" y="1311" text-anchor="middle" class="s">24</text><text x="1320" y="1311" text-anchor="middle" class="s">25</text><text x="1341" y="1311" text-anchor="middle" class="s">26</text><text x="1363" y="1311" text-anchor="middle" class="s">27</text>
<text x="1147" y="1332" text-anchor="middle" class="s">28</text><text x="1169" y="1332" text-anchor="middle" class="s">29</text><text x="1190" y="1332" text-anchor="middle" class="s">30</text><text x="1276" y="1332" text-anchor="middle" class="s">31</text><text x="1298" y="1332" text-anchor="middle" class="s">32</text><text x="1320" y="1332" text-anchor="middle" class="s">33</text><text x="1341" y="1332" text-anchor="middle" class="s">34</text><text x="1363" y="1332" text-anchor="middle" class="s">35</text>
</g>

<!-- B21 bottom -->
<ellipse class="o" cx="740" cy="1333" rx="24" ry="14"/><text x="740" y="1338" text-anchor="middle" style="letter-spacing:0">B21</text>
<text x="772" y="1338">(BLACK)</text>
<rect class="o" x="600" y="1360" width="280" height="167" rx="9"/>
<path class="n" d="M600,1432 H589 V1427 H583 V1459 H589 V1455 H600 M880,1432 H891 V1427 H895 V1459 H891 V1455 H880 M730,1527 V1540 H746 V1527"/>
<g class="n">
<rect x="622" y="1370" width="236" height="63"/>
<path d="M622,1391 H858 M622,1412 H858 M643.5,1370 V1433 M665,1370 V1433 M686.5,1370 V1433 M708,1370 V1433 M729.5,1370 V1433 M751,1370 V1433 M772.5,1370 V1433 M794,1370 V1433 M815.5,1370 V1433 M837,1370 V1433"/>
<rect x="612" y="1452" width="256" height="42"/>
<path d="M612,1473 H868 M644,1452 V1494 M676,1452 V1494 M708,1452 V1494 M740,1452 V1494 M772,1452 V1494 M804,1452 V1494 M836,1452 V1494 M676,1473 L708,1494 M708,1473 L676,1494 M772,1473 L804,1494 M804,1473 L772,1494"/>
<rect x="627" y="1494" width="225" height="21"/>
<path d="M659,1494 V1515 M691,1494 V1515 M723,1494 V1515 M755,1494 V1515 M788,1494 V1515 M820,1494 V1515"/>
</g>
<g>
<text x="633" y="1386" text-anchor="middle" class="s">1</text><text x="654" y="1386" text-anchor="middle" class="s">2</text><text x="676" y="1386" text-anchor="middle" class="s">3</text><text x="697" y="1386" text-anchor="middle" class="s">4</text><text x="719" y="1386" text-anchor="middle" class="s">5</text><text x="740" y="1386" text-anchor="middle" class="s">6</text><text x="762" y="1386" text-anchor="middle" class="s">7</text><text x="783" y="1386" text-anchor="middle" class="s">8</text><text x="805" y="1386" text-anchor="middle" class="s">9</text><text x="826" y="1386" text-anchor="middle" class="s">10</text><text x="848" y="1386" text-anchor="middle" class="s">11</text>
<text x="633" y="1407" text-anchor="middle" class="s">12</text><text x="654" y="1407" text-anchor="middle" class="s">13</text><text x="676" y="1407" text-anchor="middle" class="s">14</text><text x="697" y="1407" text-anchor="middle" class="s">15</text><text x="719" y="1407" text-anchor="middle" class="s">16</text><text x="740" y="1407" text-anchor="middle" class="s">17</text><text x="762" y="1407" text-anchor="middle" class="s">18</text><text x="783" y="1407" text-anchor="middle" class="s">19</text><text x="805" y="1407" text-anchor="middle" class="s">20</text><text x="826" y="1407" text-anchor="middle" class="s">21</text><text x="848" y="1407" text-anchor="middle" class="s">22</text>
<text x="633" y="1428" text-anchor="middle" class="s">23</text><text x="654" y="1428" text-anchor="middle" class="s">24</text><text x="676" y="1428" text-anchor="middle" class="s">25</text><text x="697" y="1428" text-anchor="middle" class="s">26</text><text x="719" y="1428" text-anchor="middle" class="s">27</text><text x="740" y="1428" text-anchor="middle" class="s">28</text><text x="762" y="1428" text-anchor="middle" class="s">29</text><text x="783" y="1428" text-anchor="middle" class="s">30</text><text x="805" y="1428" text-anchor="middle" class="s">31</text><text x="826" y="1428" text-anchor="middle" class="s">32</text><text x="848" y="1428" text-anchor="middle" class="s">33</text>
<text x="628" y="1468" text-anchor="middle" class="s">34</text><text x="660" y="1468" text-anchor="middle" class="s">35</text><text x="692" y="1468" text-anchor="middle" class="s">36</text><text x="724" y="1468" text-anchor="middle" class="s">37</text><text x="756" y="1468" text-anchor="middle" class="s">38</text><text x="788" y="1468" text-anchor="middle" class="s">39</text><text x="820" y="1468" text-anchor="middle" class="s">40</text><text x="852" y="1468" text-anchor="middle" class="s">41</text>
<text x="628" y="1489" text-anchor="middle" class="s">42</text><text x="660" y="1489" text-anchor="middle" class="s">43</text><text x="724" y="1489" text-anchor="middle" class="s">44</text><text x="756" y="1489" text-anchor="middle" class="s">45</text><text x="820" y="1489" text-anchor="middle" class="s">46</text><text x="852" y="1489" text-anchor="middle" class="s">47</text>
<text x="643" y="1510" text-anchor="middle" class="s">48</text><text x="675" y="1510" text-anchor="middle" class="s">49</text><text x="707" y="1510" text-anchor="middle" class="s">50</text><text x="739" y="1510" text-anchor="middle" class="s">51</text><text x="771" y="1510" text-anchor="middle" class="s">52</text><text x="804" y="1510" text-anchor="middle" class="s">53</text><text x="836" y="1510" text-anchor="middle" class="s">54</text>
</g>
<text x="1410" y="1535" text-anchor="end" style="font-weight:normal;font-size:16px;letter-spacing:0">WI-15772</text>
</svg>
</body></html>
